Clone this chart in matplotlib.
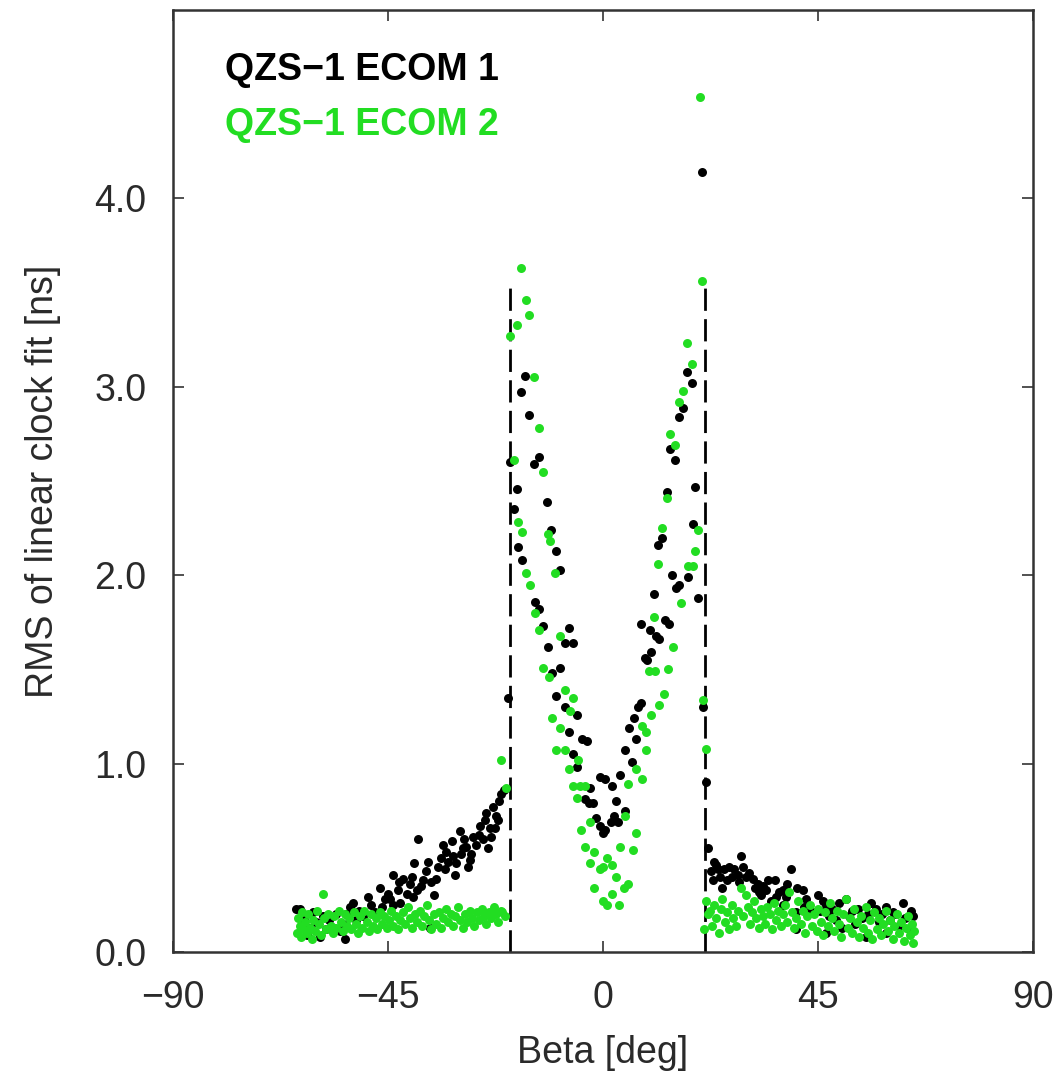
import numpy as np
import matplotlib.pyplot as plt

# ECOM 1 (black) - beta [deg], rms [ns]
ecom1_beta = [
    -64.2, -63.5, -63.0, -62.5, -62.0, -61.4, -60.7, -60.0, -59.3, -58.6,
    -58.0, -57.3, -56.5, -55.8, -55.0, -54.4, -54.0, -53.7, -53.0, -52.3,
    -51.6, -51.0, -50.3, -49.2, -48.5, -47.8, -46.7, -46.2, -45.6, -45.0,
    -44.5, -43.9, -43.0, -42.4, -41.9, -41.1, -40.5, -39.8, -39.5, -39.0,
    -38.7, -38.0, -37.0, -36.3, -35.9, -35.3, -34.9, -34.6, -34.0, -33.5,
    -32.8, -32.4, -31.7, -31.4, -30.7, -30.0, -29.8, -29.3, -28.6, -28.3,
    -27.6, -27.2, -26.5, -25.8, -25.1, -24.4, -23.7, -23.4, -23.0, -22.7,
    -22.4, -21.8, -21.3, -20.8,
    -44.0, -42.8, -40.0, -37.6, -36.6, -33.0, -31.0, -29.0, -27.9, -26.0,
    -24.8, -24.0, -22.0,
    -19.8, -19.5, -18.7, -18.0, -17.8, -17.2, -17.0, -16.3, -15.4, -14.5,
    -14.3, -13.5, -13.3, -12.6, -11.7, -11.5, -10.8, -10.7, -9.8, -9.8,
    -9.1, -8.9, -8.0, -8.0, -7.1, -7.1, -6.2, -6.2, -5.4, -5.4,
    -4.3, -3.4, -3.7, -3.0, -2.8, -2.1, -1.4, -0.7, -0.7, 0.0,
    0.5, 0.5, 1.7, 1.9, 2.4, 2.8, 3.1, 3.6, 4.5, 4.5,
    5.5, 6.1, 6.4, 6.9, 7.3, 8.0, 8.0, 8.8, 9.2, 9.9,
    10.1, 10.6, 11.1, 11.5, 11.8, 12.4, 12.9, 13.3, 13.8, 14.1,
    14.5, 15.1, 15.3, 15.9, 16.0, 16.7, 17.6, 17.7, 18.6, 18.9,
    19.3, 19.9, 20.7, 21.0, 21.6,
    21.9, 22.6, 23.0, 23.7, 24.4, 25.0, 25.4, 26.4, 27.0, 27.5,
    28.2, 28.9, 29.2, 30.0, 30.6, 31.3, 32.4, 32.7, 33.4, 34.1,
    34.5, 35.2, 35.9, 36.9, 37.6, 37.6, 38.6, 39.3, 40.4, 40.4,
    40.7, 41.8, 42.5, 43.2, 43.9, 44.9, 46.0, 46.7, 46.7, 47.4,
    48.0, 48.7, 49.4, 50.1, 50.8, 51.5, 52.2, 52.8, 53.3, 54.2,
    55.0, 55.5, 56.1, 57.1, 57.8, 58.5, 59.2, 59.2, 60.0, 60.6,
    61.3, 62.0, 62.7, 63.3, 64.0, 64.4, 64.8,
    23.2, 24.0, 26.0, 28.5, 31.8, 33.0, 36.3, 38.2, 42.0, 45.5,
]
ecom1_rms = [
    0.23, 0.23, 0.14, 0.18, 0.09, 0.13, 0.21, 0.16, 0.08, 0.19,
    0.12, 0.17, 0.13, 0.20, 0.11, 0.15, 0.07, 0.20, 0.24, 0.26,
    0.17, 0.22, 0.19, 0.29, 0.25, 0.21, 0.34, 0.24, 0.28, 0.31,
    0.28, 0.41, 0.33, 0.26, 0.39, 0.31, 0.36, 0.29, 0.47, 0.33,
    0.60, 0.35, 0.43, 0.13, 0.37, 0.30, 0.39, 0.45, 0.50, 0.57,
    0.53, 0.48, 0.59, 0.51, 0.47, 0.64, 0.52, 0.55, 0.56, 0.45,
    0.52, 0.61, 0.57, 0.67, 0.60, 0.74, 0.66, 0.61, 0.77, 0.66,
    0.72, 0.80, 0.84, 0.86,
    0.25, 0.37, 0.40, 0.38, 0.48, 0.44, 0.41, 0.60, 0.49, 0.62,
    0.70, 0.55, 0.70,
    1.35, 2.60, 2.35, 2.46, 2.15, 2.97, 2.08, 3.06, 2.85, 2.59,
    1.86, 2.63, 1.82, 1.73, 2.39, 1.62, 2.24, 1.48, 2.13, 1.36,
    2.03, 1.51, 1.64, 1.30, 1.72, 1.17, 1.64, 1.05, 1.26, 0.98,
    1.13, 1.12, 0.81, 0.79, 0.87, 0.79, 0.71, 0.93, 0.67, 0.63,
    0.92, 0.65, 0.69, 0.88, 0.72, 0.80, 0.69, 0.94, 1.07, 0.75,
    1.19, 1.01, 1.24, 1.13, 1.30, 1.32, 1.74, 1.56, 1.55, 1.71,
    1.59, 1.90, 1.68, 2.16, 1.66, 2.20, 1.76, 2.44, 1.74, 2.67,
    2.00, 2.61, 1.93, 2.84, 1.95, 2.89, 3.08, 1.99, 3.02, 2.27,
    2.47, 1.88, 4.14, 1.30, 0.90,
    0.55, 0.43, 0.38, 0.46, 0.40, 0.34, 0.44, 0.45, 0.40, 0.44,
    0.41, 0.51, 0.45, 0.40, 0.42, 0.39, 0.36, 0.32, 0.35, 0.33,
    0.38, 0.27, 0.38, 0.32, 0.33, 0.25, 0.36, 0.44, 0.21, 0.12,
    0.34, 0.33, 0.28, 0.23, 0.21, 0.30, 0.27, 0.25, 0.10, 0.19,
    0.23, 0.17, 0.26, 0.13, 0.28, 0.19, 0.22, 0.15, 0.23, 0.18,
    0.08, 0.20, 0.26, 0.23, 0.16, 0.20, 0.24, 0.10, 0.17, 0.21,
    0.20, 0.14, 0.26, 0.18, 0.12, 0.22, 0.19,
    0.48, 0.44, 0.38, 0.37, 0.34, 0.30, 0.29, 0.29, 0.24, 0.22,
]

# ECOM 2 (green)
ecom2_beta = [
    -64.0, -63.8, -63.5, -63.2, -63.0, -62.7, -62.4, -62.0, -61.7, -61.3,
    -61.0, -60.6, -60.2, -59.8, -59.4, -59.0, -58.6, -58.3, -57.9, -57.5,
    -57.0, -56.6, -56.2, -55.8, -55.3, -54.9, -54.5, -54.0, -53.6, -53.1,
    -52.7, -52.2, -51.8, -51.3, -50.9, -50.4, -50.0, -49.5, -49.0, -48.6,
    -48.1, -47.6, -47.2, -46.7, -46.2, -45.8, -45.3, -44.8, -44.3, -43.9,
    -43.4, -42.9, -42.4, -41.9, -41.4, -40.9, -40.4, -39.9, -39.4, -38.9,
    -38.4, -37.9, -37.4, -36.9, -36.4, -35.9, -35.4, -34.9, -34.4, -33.9,
    -33.4, -32.9, -32.4, -31.9, -31.4, -30.9, -30.4, -29.9, -29.4, -28.9,
    -28.4, -27.9, -27.4, -26.9, -26.4, -25.9, -25.4, -24.9, -24.4, -23.9,
    -23.4, -22.9, -22.4, -21.9, -21.4, -21.1, -20.6, -21.3, -20.2,
    -19.5, -18.0, -17.2, -16.2, -15.4, -14.5, -13.5, -12.6, -18.6, -17.8,
    -17.0, -16.1, -15.2, -14.3, -13.3, -12.6, -11.5, -11.0, -11.3, -10.7,
    -10.0, -9.8, -9.1, -9.1, -8.0, -8.0, -7.2, -7.0, -6.3, -6.2,
    -5.5, -5.3, -4.9, -4.6, -3.7, -3.7, -2.8, -2.7, -1.8, -1.8,
    -0.7, 0.0, 0.1, 0.8, 0.8, 1.9, 1.9, 2.8, 3.4, 3.6,
    4.3, 4.5, 5.2, 5.2, 6.2, 6.9, 6.9, 8.2, 8.2, 8.9,
    9.0, 9.7, 10.1, 10.6, 10.8, 11.5, 11.8, 12.4, 12.7, 13.3,
    13.7, 14.1, 14.6, 15.1, 15.9, 16.3, 16.8, 17.6, 17.7, 18.6,
    18.8, 19.3, 19.8, 20.2, 20.7, 21.0, 21.6,
    21.2, 21.5, 22.0, 22.3, 22.8, 23.3, 23.7, 24.2, 24.6, 25.0,
    25.5, 26.0, 26.4, 26.9, 27.3, 27.8, 28.2, 28.9, 29.3, 29.9,
    30.3, 30.8, 31.2, 31.7, 32.1, 32.6, 33.0, 33.5, 34.0, 34.4,
    34.9, 35.3, 35.8, 36.3, 36.7, 37.2, 37.7, 38.1, 38.6, 39.0,
    39.5, 40.0, 40.4, 40.9, 41.4, 41.9, 42.3, 42.8, 43.3, 43.7,
    44.2, 44.7, 45.1, 45.6, 46.1, 46.5, 47.0, 47.5, 47.9, 48.4,
    48.9, 49.3, 49.8, 50.3, 50.8, 51.2, 51.7, 52.2, 52.6, 53.1,
    53.6, 54.0, 54.5, 55.0, 55.4, 55.9, 56.4, 56.8, 57.3, 57.8,
    58.2, 58.7, 59.2, 59.6, 60.1, 60.6, 61.0, 61.5, 62.0, 62.4,
    62.9, 63.4, 63.8, 64.3, 64.7, 65.0, 64.9,
]
ecom2_rms = [
    0.10, 0.18, 0.14, 0.08, 0.21, 0.12, 0.16, 0.10, 0.20, 0.13,
    0.07, 0.17, 0.11, 0.22, 0.15, 0.09, 0.31, 0.18, 0.12, 0.20,
    0.14, 0.10, 0.19, 0.13, 0.22, 0.16, 0.11, 0.20, 0.14, 0.18,
    0.12, 0.21, 0.15, 0.10, 0.19, 0.13, 0.22, 0.16, 0.11, 0.20,
    0.14, 0.18, 0.12, 0.21, 0.15, 0.19, 0.13, 0.17, 0.22, 0.14,
    0.19, 0.12, 0.17, 0.21, 0.15, 0.24, 0.18, 0.13, 0.20, 0.16,
    0.22, 0.14, 0.19, 0.25, 0.17, 0.12, 0.20, 0.15, 0.21, 0.13,
    0.18, 0.23, 0.16, 0.20, 0.14, 0.19, 0.24, 0.17, 0.13, 0.20,
    0.16, 0.22, 0.18, 0.14, 0.21, 0.17, 0.23, 0.19, 0.15, 0.21,
    0.18, 0.24, 0.20, 0.16, 0.22, 0.21, 0.19, 1.02, 0.87,
    3.27, 3.33, 3.63, 3.46, 3.38, 3.05, 2.78, 2.55, 2.61, 2.28,
    2.23, 2.01, 1.95, 1.80, 1.71, 1.51, 2.22, 2.18, 1.46, 1.24,
    2.01, 1.07, 1.68, 1.19, 1.39, 1.07, 0.97, 1.28, 0.88, 1.35,
    0.82, 1.02, 0.88, 0.65, 0.88, 0.56, 0.69, 0.47, 0.53, 0.34,
    0.44, 0.27, 0.45, 0.50, 0.25, 0.46, 0.31, 0.40, 0.25, 0.56,
    0.34, 0.72, 0.36, 0.89, 0.54, 0.63, 0.97, 0.92, 1.20, 1.07,
    1.17, 1.49, 1.26, 1.78, 1.49, 2.06, 1.31, 2.25, 1.37, 2.41,
    1.50, 2.75, 1.62, 2.69, 2.92, 1.85, 2.98, 3.23, 2.05, 3.12,
    2.05, 2.13, 2.24, 4.54, 3.56, 1.34, 1.08,
    0.12, 0.27, 0.20, 0.22, 0.14, 0.25, 0.18, 0.10, 0.23, 0.28,
    0.16, 0.21, 0.12, 0.25, 0.18, 0.14, 0.22, 0.34, 0.19, 0.30,
    0.24, 0.15, 0.21, 0.27, 0.18, 0.13, 0.23, 0.19, 0.15, 0.24,
    0.20, 0.12, 0.26, 0.17, 0.22, 0.14, 0.20, 0.25, 0.16, 0.32,
    0.21, 0.13, 0.18, 0.27, 0.15, 0.22, 0.10, 0.19, 0.25, 0.14,
    0.20, 0.11, 0.23, 0.16, 0.09, 0.21, 0.14, 0.26, 0.18, 0.11,
    0.22, 0.15, 0.08, 0.20, 0.28, 0.13, 0.18, 0.10, 0.23, 0.16,
    0.08, 0.19, 0.13, 0.24, 0.10, 0.17, 0.07, 0.21, 0.12, 0.18,
    0.09, 0.15, 0.22, 0.11, 0.17, 0.07, 0.14, 0.20, 0.10, 0.16,
    0.06, 0.13, 0.19, 0.09, 0.15, 0.11, 0.05,
]

# eclipse season boundaries (dashed lines)
eclipse_beta = [-19.5, 21.4]
eclipse_top = 3.55

GREEN = '#22dd22'
TEXT = '#2a2a2a'

plt.rcParams['font.family'] = ['Liberation Sans', 'DejaVu Sans']

fig = plt.figure(figsize=(10.53, 10.75), dpi=100)
ax = fig.add_axes([0.1643, 0.1144, 0.8167, 0.8763])

ax.scatter(ecom1_beta, ecom1_rms, s=42, color='black', linewidths=0, zorder=3)
ax.scatter(ecom2_beta, ecom2_rms, s=42, color=GREEN, linewidths=0, zorder=4)

for b in eclipse_beta:
    ax.plot([b, b], [0, eclipse_top], color='black', lw=2.0,
            linestyle=(0, (8, 3)), zorder=2)

ax.set_xlim(-90, 90)
ax.set_ylim(0, 5)
ax.set_xticks([-90, -45, 0, 45, 90])
ax.set_yticks([0, 1, 2, 3, 4])
ax.set_yticklabels(['0.0', '1.0', '2.0', '3.0', '4.0'])
ax.tick_params(direction='in', length=8, width=1.2, top=True, right=True,
               labelsize=27, labelcolor=TEXT, color='#333333')
ax.tick_params(axis='x', pad=20)
ax.tick_params(axis='y', pad=19)
for sp in ax.spines.values():
    sp.set_linewidth(1.8)
    sp.set_color('#333333')

ax.set_xlabel('Beta [deg]', fontsize=27, color=TEXT, labelpad=14)
ax.set_ylabel('RMS of linear clock fit [ns]', fontsize=27, color=TEXT, labelpad=24)

ax.text(0.060, 0.926, 'QZS\u22121 ECOM 1', transform=ax.transAxes,
        fontsize=27, fontweight='bold', color='black', va='baseline')
ax.text(0.060, 0.867, 'QZS\u22121 ECOM 2', transform=ax.transAxes,
        fontsize=27, fontweight='bold', color=GREEN, va='baseline')

fig.savefig('out.png', dpi=100)
